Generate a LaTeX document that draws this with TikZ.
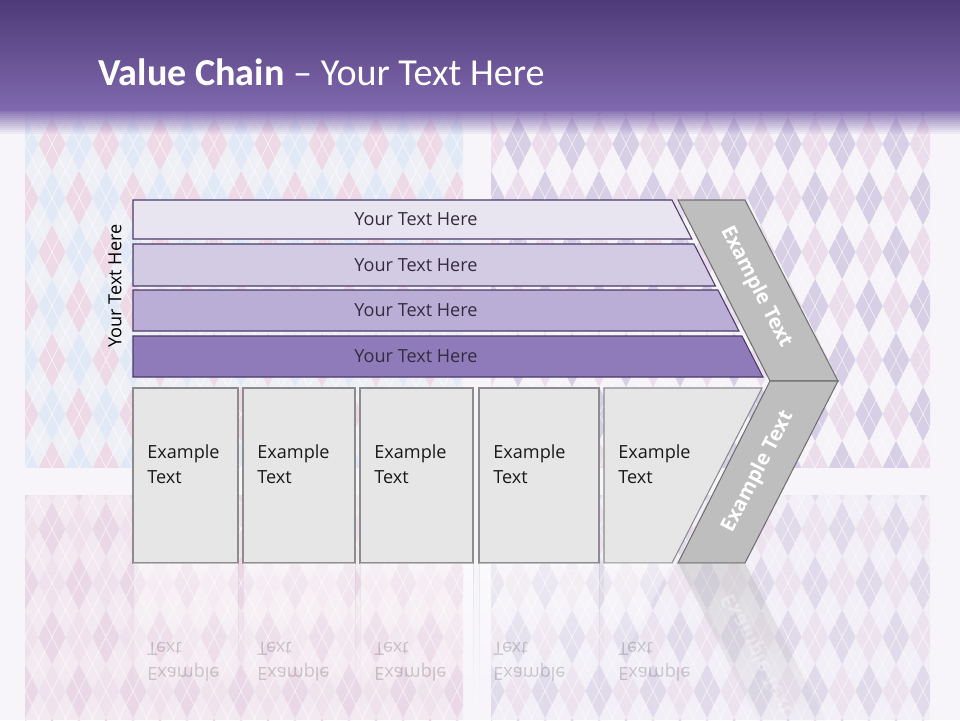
\documentclass[tikz,border=0pt]{standalone}
\usepackage{fontspec}
\setmainfont{Open Sans}
\newfontfamily\titlefont{Carlito}
\usetikzlibrary{positioning, calc, fadings}
\definecolor{hdrtop}{RGB}{78,58,120}
\definecolor{hdrbot}{RGB}{128,105,174}
\definecolor{slidebg}{RGB}{247,245,250}
\definecolor{bar1}{RGB}{232,228,240}
\definecolor{bar2}{RGB}{211,202,228}
\definecolor{bar3}{RGB}{186,174,214}
\definecolor{bar4}{RGB}{143,123,186}
\definecolor{barline}{RGB}{74,58,106}
\definecolor{bartext}{RGB}{52,44,62}
\definecolor{boxfill}{RGB}{230,230,230}
\definecolor{boxline}{RGB}{140,140,140}
\definecolor{chevfill}{RGB}{190,190,190}
\definecolor{chevline}{RGB}{112,112,112}
% argyle colours
\definecolor{paleA}{RGB}{239,240,246}
\definecolor{pinkA}{RGB}{238,218,231}
\definecolor{blueA}{RGB}{226,233,246}
\definecolor{paleB}{RGB}{246,243,249}
\definecolor{lavB}{RGB}{214,207,229}
\definecolor{pinkB}{RGB}{235,221,235}
\definecolor{paleC}{RGB}{243,234,241}
\definecolor{pinkC}{RGB}{234,216,230}
\definecolor{roseC}{RGB}{239,226,236}
\definecolor{paleD}{RGB}{242,239,247}
\definecolor{lavD}{RGB}{224,218,234}
\definecolor{pinkD}{RGB}{236,227,238}
\tikzset{
  bar/.style={draw=barline, line width=0.6pt},
  bartxt/.style={text=bartext, font=\fontsize{10.3}{12}\selectfont, inner sep=0pt},
  sidetxt/.style={text=black, font=\fontsize{10.3}{12}\selectfont, rotate=90, inner sep=0pt},
  valbox/.style={draw=boxline, fill=boxfill, line width=0.6pt},
  boxtxt/.style={text=black!90, font=\fontsize{10.3}{14.7}\selectfont, align=left, inner sep=0pt, anchor=north west},
  chev/.style={draw=chevline, fill=chevfill, line width=0.6pt},
  chevtxt/.style={text=white, font=\fontsize{11.5}{13}\selectfont\bfseries, inner sep=0pt},
  reflbox/.style={fill=white, fill opacity=0.45, path fading=south},
  refltxt/.style={boxtxt, text=black, opacity=0.18, yscale=-1, transform shape},
}
% one argyle panel: x0, y0, x1, y1, base, colour a, colour b
\newcommand{\argyle}[7]{%
  \begin{scope}
    \clip (#1,#2) rectangle (#3,#4);
    \fill[#5] (#1,#2) rectangle (#3,#4);
    \foreach \i in {0,...,17}{
      \foreach \j in {0,...,7}{
        \pgfmathtruncatemacro{\k}{mod(\i+\j,2)}
        \pgfmathsetmacro{\cx}{#1+27*\i}
        \pgfmathsetmacro{\cy}{#2-20+54*\j}
        \ifnum\k=0 \def\dcol{#6}\else\def\dcol{#7}\fi
        \fill[\dcol] (\cx,\cy-27) -- (\cx+13.5,\cy) -- (\cx,\cy+27) -- (\cx-13.5,\cy) -- cycle;
      }
    }
    \foreach \i in {-10,...,18}
      \draw[white, line width=0.4pt, opacity=0.6]
        (#1+27*\i,#2-20) -- ++(270,540)
        (#1+27*\i+27*10,#2-20) -- ++(-270,540);
  \end{scope}
}

\begin{document}
\begin{tikzpicture}[x=0.02cm, y=-0.02cm]
  \useasboundingbox (0,0) rectangle (960,720);
  \fill[slidebg] (0,0) rectangle (960,720);

  % background panels
  \argyle{25}{110}{463}{467}{paleA}{pinkA}{blueA}
  \argyle{491}{110}{930}{467}{paleB}{lavB}{pinkB}
  \argyle{25}{495}{463}{720}{paleC}{pinkC}{roseC}
  \argyle{491}{495}{930}{720}{paleD}{lavD}{pinkD}

  % header band
  \fill[top color=hdrtop, bottom color=hdrbot] (0,0) rectangle (960,110);
  \foreach \k in {0,...,11}{
    \pgfmathsetmacro{\op}{1-(\k+1)/13}
    \fill[hdrbot, opacity=\op] (0,110+2*\k) rectangle (960,112+2*\k);
  }
  \node[anchor=base west, text=white, inner sep=0pt,
        font=\titlefont\fontsize{21.7}{26}\selectfont] (title) at (98,85)
        {\textbf{Value Chain} – Your Text Here};

  % bars
  \foreach \y/\h/\x/\c [count=\n] in {200/39/672/bar1, 244/42/694/bar2,
                                      290/41/718/bar3, 336/41/742/bar4}{
    \draw[bar, fill=\c] (133,\y) -- (\x,\y) -- (\x+0.51*\h,\y+\h) -- (133,\y+\h) -- cycle;
    \node[bartxt] (row\n) at (416,\y+\h/2) {Your Text Here};
  }
  \node[sidetxt] (side) at (115,286) {Your Text Here};

  % boxes
  \foreach \xa/\xb [count=\n] in {133/238, 243/355, 360/473, 479/599}{
    \draw[valbox] (\xa,388) rectangle (\xb,563);
    \node[boxtxt] (box\n) at (\xa+14,444) {Example\\Text};
  }
  \draw[valbox] (604,388) -- (762,388) -- (672,563) -- (604,563) -- cycle;
  \node[boxtxt] (box5) at (618,444) {Example\\Text};

  % chevron
  \draw[chev] (678,200) -- (745,200) -- (838,381) -- (770,381) -- cycle;
  \draw[chev] (770,381) -- (838,381) -- (745,563) -- (678,563) -- cycle;
  \node[chevtxt, rotate=-62.8] (chevup) at (756,287) {Example Text};
  \node[chevtxt, rotate=62.8] (chevdn) at (758,472) {Example Text};

  % reflection
  \foreach \xa/\xb [count=\n] in {133/238, 243/355, 360/473, 479/599}{
    \fill[reflbox] (\xa,563) rectangle (\xb,705);
    \draw[boxline!50, opacity=0.35, path fading=south] (\xa,563) -- (\xa,705) (\xb,563) -- (\xb,705);
    \node[refltxt] (refl\n) at (\xa+14,682) {Example\\Text};
  }
  \fill[reflbox] (604,563) -- (672,563) -- (604,695) -- cycle;
  \node[refltxt] (refl5) at (618,682) {Example\\Text};
  \fill[chevfill, fill opacity=0.45, path fading=south] (678,563) -- (745,563) -- (838,745) -- (770,745) -- cycle;
  \node[chevtxt, opacity=0.3, rotate=-62.8, yscale=-1, transform shape] (reflchev) at (758,654) {Example Text};
\end{tikzpicture}
\end{document}
